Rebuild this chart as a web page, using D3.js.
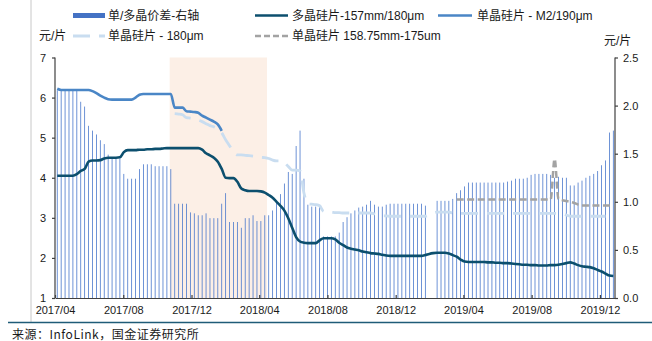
<!DOCTYPE html>
<html><head><meta charset="utf-8">
<script src="https://cdn.jsdelivr.net/npm/d3@7"></script>
<style>
body{margin:0;background:#fff;}
svg{display:block;font-family:"Liberation Sans",Arial,"Noto Sans CJK SC",sans-serif;}
</style>
</head><body>
<svg id="chart" width="652" height="341"></svg>
<script>
// ---- data ----
const firstWeek = "2017-04-05";           // weekly observations
const xTickLabels = ["2017/04","2017/08","2017/12","2018/04","2018/08","2018/12","2019/04","2019/08","2019/12"];
const leftTicks = [1,2,3,4,5,6,7];
const rightTicks = [0,0.5,1,1.5,2,2.5];
const shadeRange = ["2017-10-23","2018-04-15"];

// 单/多晶价差 (right axis)
const spread = [2.16,2.16,2.16,2.16,2.16,2.16,2.04,1.99,1.79,1.74,1.70,1.64,1.60,1.49,1.45,1.45,1.45,1.29,1.24,1.24,
1.24,1.34,1.39,1.39,1.39,1.37,1.37,1.37,1.37,1.34,0.98,0.98,0.98,0.98,0.89,0.88,0.86,0.86,0.88,0.83,
0.83,0.83,0.98,1.09,0.79,0.79,0.79,0.73,0.83,0.83,0.86,0.80,0.80,0.86,0.86,0.91,1.00,1.08,1.19,1.31,
1.29,1.58,1.74,1.24,0.97,0.95,0.95,0.95,0.64,0.64,0.64,0.64,0.68,0.79,0.84,0.88,0.91,0.94,0.95,0.97,
1.01,0.97,0.95,0.95,0.97,0.98,0.98,0.98,0.98,0.98,0.98,0.98,0.98,0.98,0.96,null,null,1.01,1.01,1.01,
1.01,1.03,1.09,1.12,1.16,1.20,1.20,1.20,1.20,1.20,1.20,1.20,1.20,1.20,1.20,1.21,1.22,1.24,1.24,1.24,
1.25,1.28,1.29,1.29,1.29,1.29,1.28,1.25,1.26,1.25,1.25,1.17,1.17,1.20,1.22,1.25,1.27,1.29,1.32,1.38,
1.43,1.72,1.74];

// 多晶硅片-157mm/180μm
const poly = [4.05,4.05,4.05,4.05,4.05,4.09,4.17,4.22,4.40,4.43,4.43,4.44,4.48,4.50,4.50,4.50,4.51,4.64,4.69,4.69,
4.69,4.70,4.70,4.71,4.71,4.72,4.72,4.73,4.74,4.74,4.74,4.74,4.74,4.74,4.74,4.74,4.74,4.70,4.61,4.56,
4.50,4.40,4.22,4.00,3.99,3.99,3.90,3.73,3.69,3.67,3.67,3.67,3.66,3.63,3.57,3.50,3.40,3.30,3.18,2.99,
2.75,2.52,2.41,2.38,2.37,2.37,2.37,2.44,2.49,2.49,2.49,2.46,2.38,2.32,2.26,2.23,2.21,2.19,2.16,2.14,
2.12,2.11,2.10,2.08,2.06,2.05,2.05,2.05,2.05,2.05,2.05,2.05,2.05,2.05,2.07,2.10,2.12,2.13,2.13,2.13,
2.11,2.07,2.03,1.96,1.91,1.90,1.90,1.90,1.90,1.90,1.89,1.89,1.88,1.88,1.87,1.87,1.86,1.85,1.84,1.83,
1.83,1.82,1.82,1.81,1.81,1.81,1.82,1.82,1.83,1.85,1.87,1.89,1.86,1.82,1.79,1.78,1.77,1.74,1.70,1.66,
1.61,1.56,1.55];

// 单晶硅片 - M2/190μm
const monoM2 = [6.22,6.19,6.19,6.19,6.19,6.19,6.19,6.19,6.19,6.16,6.11,6.05,6.00,5.96,5.95,5.95,5.95,5.95,5.95,5.95,
6.00,6.07,6.09,6.09,6.09,6.09,6.09,6.09,6.09,6.09,5.75,5.75,5.75,5.66,5.65,5.64,5.62,5.55,5.50,5.45,
5.40,5.33,5.17];

// 单晶硅片 - 180μm (starts at week 30)
const mono180Start = 30;
const mono180 = [5.60,5.59,5.57,5.50,5.49,5.47,5.44,5.40,5.35,5.30,5.27,5.22,5.12,4.95,4.80,4.65,4.57,4.57,4.56,4.55,
4.54,4.53,4.51,4.50,4.48,4.44,4.42,4.42,4.38,4.28,4.19,4.19,4.17,3.62,3.35,3.34,3.33,3.30,3.16,3.14,
3.14,3.13,3.13,3.12,3.12,3.12,3.12,3.12,3.12,3.12,3.12,3.10,3.07,3.05,3.05,3.04,3.04,3.04,3.04,3.04,
3.04,3.04,3.04,3.04,3.04,3.08,3.12,3.14,3.14,3.14,3.14,3.12,3.11,3.11,3.11,3.11,3.11,3.11,3.11,3.11,
3.11,3.11,3.11,3.11,3.11,3.11,3.11,3.11,3.11,3.11,3.11,3.11,3.11,3.11,3.11,3.11,3.11,3.11,3.11,3.10,
3.07,3.04,3.04,3.04,3.04,3.04,3.04,3.04,3.04,3.04,3.04];

// 单晶硅片 158.75mm-175um (starts at week 102)
const mono158Start = 102;
const mono158 = [3.46,3.46,3.46,3.46,3.46,3.46,3.46,3.46,3.46,3.46,3.46,3.46,3.46,3.46,3.46,3.46,3.46,3.46,3.46,3.46,
3.46,3.46,3.46,3.46,3.46,4.47,3.47,3.44,3.42,3.40,3.37,3.33,3.31,3.31,3.31,3.31,3.31,3.31,3.31,3.31,3.31];

// ---- chart ----
const svg = d3.select("#chart");
const parseDay = d3.utcParse("%Y-%m-%d");
const parseMonth = d3.utcParse("%Y/%m");
const nWeeks = spread.length;
const dates = d3.range(nWeeks).map(i => d3.utcDay.offset(parseDay(firstWeek), 7 * i));

const L = 55, R = 615, T = 57.5, B = 298;
const x = d3.scaleUtc().domain([parseDay("2017-04-01"), parseDay("2019-12-28")]).range([L, R]);
const yL = d3.scaleLinear().domain([1, 7]).range([B, T]);
const yR = d3.scaleLinear().domain([0, 2.5]).range([B, T]);

// left frame line
svg.append("line").attr("x1",31).attr("x2",31).attr("y1",0).attr("y2",322).attr("stroke","#c8c8c8").attr("stroke-width",1);

// shaded period
svg.append("rect")
  .attr("x", x(parseDay(shadeRange[0]))).attr("y", T)
  .attr("width", x(parseDay(shadeRange[1])) - x(parseDay(shadeRange[0])))
  .attr("height", B - T).attr("fill", "#fcefe6");

// bars
svg.append("g").selectAll("rect")
  .data(spread.map((v,i) => ({d: dates[i], v})).filter(p => p.v != null))
  .join("rect")
  .attr("x", p => x(p.d) - 0.4).attr("width", 0.8)
  .attr("y", p => yR(p.v)).attr("height", p => yR(0) - yR(p.v))
  .attr("fill", "#4a78cc");

function series(arr, start) {
  return arr.map((v,i) => ({d: dates[start + i], v}));
}
const line = d3.line().x(p => x(p.d)).y(p => yL(p.v)).curve(d3.curveMonotoneX);

svg.append("path").datum(series(poly,0)).attr("d", line)
  .attr("fill","none").attr("stroke","#0c4f6e").attr("stroke-width",2.6).attr("stroke-linejoin","round");
svg.append("path").datum(series(monoM2,0)).attr("d", line)
  .attr("fill","none").attr("stroke","#4a86c6").attr("stroke-width",2.6).attr("stroke-linejoin","round");
svg.append("path").datum(series(mono180,mono180Start)).attr("d", line)
  .attr("fill","none").attr("stroke","#c9ddf0").attr("stroke-width",2.8).attr("stroke-dasharray","17,9");
svg.append("path").datum(series(mono158,mono158Start)).attr("d", line)
  .attr("fill","none").attr("stroke","#a3a3a3").attr("stroke-width",2.5).attr("stroke-dasharray","7,3.5");

// axes
const axisColor = "#404040";
const gx = svg.append("g").attr("transform", `translate(0,${B})`)
  .call(d3.axisBottom(x).tickValues(xTickLabels.map(parseMonth)).tickFormat(d3.utcFormat("%Y/%m"))
    .tickSizeInner(-3).tickSizeOuter(0).tickPadding(8));
const gl = svg.append("g").attr("transform", `translate(${L},0)`)
  .call(d3.axisLeft(yL).tickValues(leftTicks).tickFormat(d3.format("d")).tickSizeInner(3).tickSizeOuter(0).tickPadding(6));
const gr = svg.append("g").attr("transform", `translate(${R},0)`)
  .call(d3.axisRight(yR).tickValues(rightTicks).tickFormat(d3.format(".1f")).tickSizeInner(3).tickSizeOuter(0).tickPadding(5));
[gx, gl, gr].forEach(g => {
  g.select(".domain").attr("stroke", axisColor).attr("stroke-width", 1.2);
  g.selectAll(".tick line").attr("stroke", axisColor).attr("stroke-width", 1.2);
  g.selectAll(".tick text").attr("fill", "#1a1a1a").style("font-size","11px").style("font-family","'Liberation Sans',Arial,sans-serif");
});
gl.select(".domain").attr("d", `M0,${T}V${B}`);
gr.select(".domain").attr("d", `M0,${T}V${B}`);

// legend
const lg = svg.append("g").style("font-size","12px").attr("fill","#1a1a1a");
const r1 = 15.5, r2 = 36;
lg.append("rect").attr("x",73).attr("y",r1-2.5).attr("width",32).attr("height",5).attr("fill","#4472c4");
lg.append("text").attr("x",108).attr("y",r1).attr("dy","0.35em").text("单/多晶价差-右轴");
lg.append("line").attr("x1",255).attr("x2",288).attr("y1",r1).attr("y2",r1).attr("stroke","#0c4f6e").attr("stroke-width",2.6);
lg.append("text").attr("x",292).attr("y",r1).attr("dy","0.35em").text("多晶硅片-157mm/180μm");
lg.append("line").attr("x1",438).attr("x2",472).attr("y1",r1).attr("y2",r1).attr("stroke","#4a86c6").attr("stroke-width",2.6);
lg.append("text").attr("x",477).attr("y",r1).attr("dy","0.35em").text("单晶硅片 - M2/190μm");
lg.append("text").attr("x",39).attr("y",r2).attr("dy","0.35em").text("元/片");
lg.append("line").attr("x1",73).attr("x2",105).attr("y1",r2).attr("y2",r2).attr("stroke","#c9ddf0").attr("stroke-width",2.8).attr("stroke-dasharray","17,9");
lg.append("text").attr("x",108).attr("y",r2).attr("dy","0.35em").text("单晶硅片 - 180μm");
lg.append("line").attr("x1",255).attr("x2",288).attr("y1",r2).attr("y2",r2).attr("stroke","#a3a3a3").attr("stroke-width",2.5).attr("stroke-dasharray","6,3");
lg.append("text").attr("x",292).attr("y",r2).attr("dy","0.35em").text("单晶硅片 158.75mm-175um");
lg.append("text").attr("x",604).attr("y",41).attr("dy","0.35em").text("元/片");

// source line
svg.append("line").attr("x1",8).attr("x2",652).attr("y1",322.5).attr("y2",322.5).attr("stroke","#1f5c78").attr("stroke-width",1.6);
svg.append("text").attr("x",12).attr("y",335).attr("dy","0.35em")
  .style("font-family","'Noto Sans CJK SC',sans-serif").style("font-size","12px").style("letter-spacing","0.5px")
  .attr("fill","#1a1a1a").text("来源：InfoLink，国金证券研究所");
</script>
</body></html>
